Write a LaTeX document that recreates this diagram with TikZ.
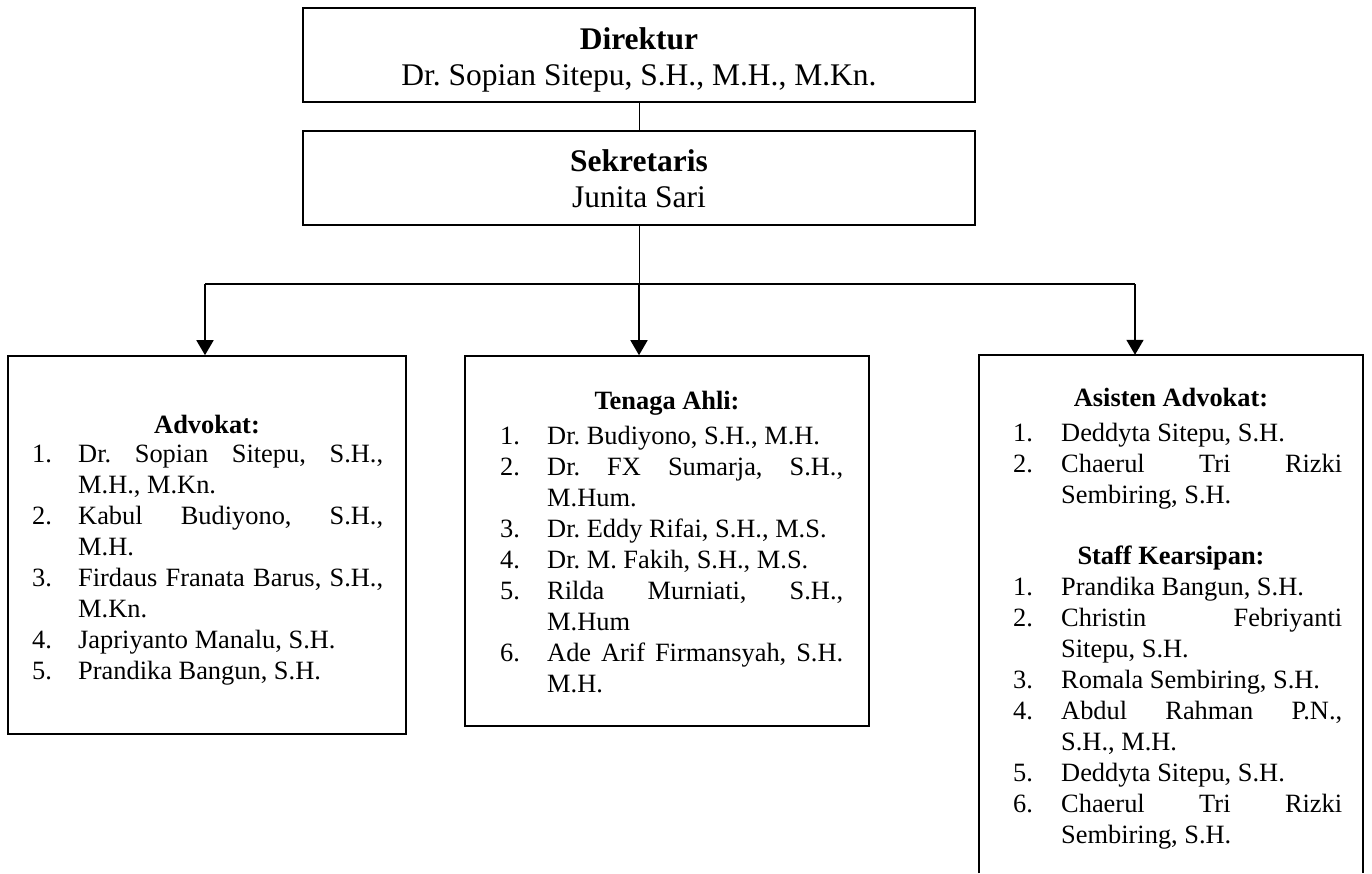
\documentclass[tikz,border=0pt]{standalone}
\usepackage{fontspec}
\setmainfont{Liberation Serif}
\usetikzlibrary{arrows.meta}
\frenchspacing
\newlength\numw
\newlength\txtw
\newcommand\itJ[2]{\makebox[\numw][l]{#1}\makebox[\txtw][s]{#2}}
\newcommand\itN[2]{\makebox[\numw][l]{#1}#2}
\newcommand\itC[1]{\hspace*{\numw}#1}
\newcommand\firstline{\rule{0pt}{20pt}}
\begin{document}
\begin{tikzpicture}[x=1pt,y=-1pt,
  topbox/.style={draw, line width=1.3pt, minimum width=672pt, minimum height=94pt, inner sep=0pt},
  lowbox/.style={draw, line width=1.6pt, inner sep=0pt},
  toptitle/.style={inner sep=0pt, anchor=base, font=\bfseries\fontsize{31.5pt}{36pt}\selectfont},
  topname/.style={inner sep=0pt, anchor=base, font=\fontsize{31.5pt}{36pt}\selectfont},
  hd/.style={inner sep=0pt, anchor=base, font=\bfseries\fontsize{26.4pt}{31pt}\selectfont},
  txt/.style={inner sep=0pt, anchor=north west, align=left, font=\fontsize{26.4pt}{31pt}\selectfont},
  thinline/.style={line width=1pt},
  bus/.style={line width=1.7pt},
  arr/.style={line width=1.7pt, -{Triangle[width=17pt,length=15pt]}}
]
\useasboundingbox (0,0) rectangle (1372,873);

% top boxes
\node[topbox] (dir) at (639,55) {};
\node[toptitle] (dirT) at (639,49) {Direktur};
\node[topname] (dirN) at (639,85) {Dr. Sopian Sitepu, S.H., M.H., M.Kn.};

\node[topbox] (sek) at (639,178) {};
\node[toptitle] (sekT) at (639,171) {Sekretaris};
\node[topname] (sekN) at (639,207) {Junita Sari};

% lower boxes
\node[lowbox, minimum width=398pt, minimum height=378pt] (b1) at (207,545) {};
\node[lowbox, minimum width=404pt, minimum height=370pt] (b2) at (667,541) {};
\node[inner sep=0pt, minimum width=384pt, minimum height=518pt] (b3) at (1171,614) {};
\draw[line width=1.6pt] (b3.south west) -- (b3.north west) -- (b3.north east) -- (b3.south east);

% box 1 text
\setlength\numw{46pt}\setlength\txtw{305pt}
\node[hd] (h1) at (207,433) {Advokat:};
\node[txt] (t1) at (32,442) {\firstline\itJ{1.}{Dr. Sopian Sitepu, S.H.,}\\
\itC{M.H., M.Kn.}\\
\itJ{2.}{Kabul Budiyono, S.H.,}\\
\itC{M.H.}\\
\itJ{3.}{Firdaus Franata Barus, S.H.,}\\
\itC{M.Kn.}\\
\itN{4.}{Japriyanto Manalu, S.H.}\\
\itN{5.}{Prandika Bangun, S.H.}};

% box 2 text
\setlength\numw{47pt}\setlength\txtw{296pt}
\node[hd] (h2) at (667,409) {Tenaga Ahli:};
\node[txt] (t2) at (500,424) {\firstline\itN{1.}{Dr. Budiyono, S.H., M.H.}\\
\itJ{2.}{Dr. FX Sumarja, S.H.,}\\
\itC{M.Hum.}\\
\itN{3.}{Dr. Eddy Rifai, S.H., M.S.}\\
\itN{4.}{Dr. M. Fakih, S.H., M.S.}\\
\itJ{5.}{Rilda Murniati, S.H.,}\\
\itC{M.Hum}\\
\itJ{6.}{Ade Arif Firmansyah, S.H.}\\
\itC{M.H.}};

% box 3 text
\setlength\numw{48pt}\setlength\txtw{281pt}
\node[hd] (h3) at (1171,406) {Asisten Advokat:};
\node[txt] (t3) at (1013,421) {\firstline\itN{1.}{Deddyta Sitepu, S.H.}\\
\itJ{2.}{Chaerul Tri Rizki}\\
\itC{Sembiring, S.H.}};
\node[hd] (h4) at (1171,564) {Staff Kearsipan:};
\node[txt] (t4) at (1013,575) {\firstline\itN{1.}{Prandika Bangun, S.H.}\\
\itJ{2.}{Christin Febriyanti}\\
\itC{Sitepu, S.H.}\\
\itN{3.}{Romala Sembiring, S.H.}\\
\itJ{4.}{Abdul Rahman P.N.,}\\
\itC{S.H., M.H.}\\
\itN{5.}{Deddyta Sitepu, S.H.}\\
\itJ{6.}{Chaerul Tri Rizki}\\
\itC{Sembiring, S.H.}};

% connectors
\coordinate (jl) at (205,284);
\coordinate (jm) at (639,284);
\coordinate (jr) at (1135,284);
\draw[thinline] (dir) -- (sek);
\draw[thinline] (sek) -- (jm);
\draw[bus] (jl) -- (jr);
\draw[arr] (jl) -- (jl |- b1.north);
\draw[arr] (jm) -- (jm |- b2.north);
\draw[arr] (jr) -- (jr |- b3.north);
\end{tikzpicture}
\end{document}
